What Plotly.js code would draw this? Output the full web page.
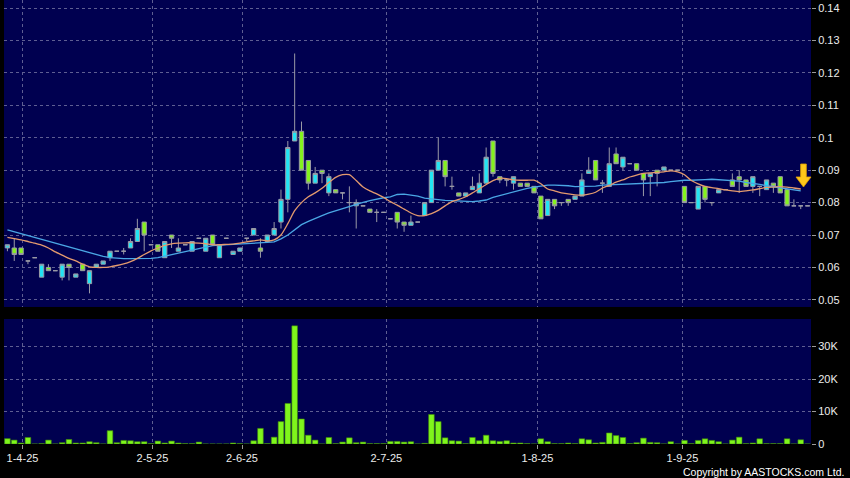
<!DOCTYPE html>
<html>
<head>
<meta charset="utf-8">
<script src="https://cdn.plot.ly/plotly-3.0.1.min.js"></script>
<style>
  html, body { margin: 0; padding: 0; background: #000; }
  #chart { width: 850px; height: 478px; }
</style>
</head>
<body>
<div id="chart"></div>
<script>
// ---- Data (one entry per trading session) ----
const openPx  = [0.066,0.066,0.066,0.062,0.063,0.057,0.060,0.059,0.057,0.061,
                 0.057,0.061,0.055,0.060,0.061,0.063,0.065,0.065,0.066,0.068,
                 0.074,0.067,0.067,0.063,0.070,0.065,0.067,0.065,0.069,0.065,
                 0.070,0.063,0.069,0.064,0.065,0.069,0.070,0.066,0.068,0.070,
                 0.074,0.081,0.099,0.102,0.093,0.086,0.090,0.083,0.084,0.083,
                 0.080,0.079,0.079,0.078,0.077,0.077,0.075,0.077,0.074,0.073,
                 0.074,0.076,0.080,0.090,0.093,0.085,0.083,0.082,0.084,0.083,
                 0.086,0.099,0.088,0.087,0.086,0.086,0.086,0.085,0.082,0.076,
                 0.081,0.080,0.081,0.081,0.082,0.089,0.093,0.086,0.085,0.095,
                 0.091,0.092,0.092,0.089,0.088,0.090,0.090,0.090,0.090,0.085,
                 0.080,0.078,0.085,0.080,0.083,0.084,0.087,0.088,0.087,0.085,
                 0.085,0.084,0.086,0.088,0.084,0.079,0.079,0.079];
const highPx  = [0.067,0.069,0.066,0.062,0.063,0.061,0.061,0.059,0.061,0.061,
                 0.058,0.061,0.059,0.061,0.062,0.065,0.065,0.066,0.069,0.075,
                 0.074,0.067,0.067,0.068,0.070,0.069,0.067,0.068,0.069,0.069,
                 0.070,0.067,0.069,0.065,0.066,0.069,0.072,0.069,0.070,0.074,
                 0.084,0.099,0.126,0.105,0.093,0.091,0.090,0.089,0.084,0.083,
                 0.085,0.081,0.079,0.078,0.078,0.077,0.075,0.077,0.074,0.076,
                 0.074,0.080,0.090,0.100,0.093,0.088,0.083,0.083,0.088,0.089,
                 0.097,0.099,0.088,0.087,0.088,0.086,0.086,0.085,0.082,0.081,
                 0.081,0.080,0.081,0.082,0.089,0.094,0.093,0.087,0.097,0.097,
                 0.094,0.092,0.092,0.089,0.089,0.090,0.091,0.090,0.090,0.085,
                 0.080,0.085,0.085,0.080,0.084,0.084,0.089,0.090,0.087,0.088,
                 0.085,0.087,0.086,0.088,0.084,0.081,0.079,0.079];
const lowPx   = [0.065,0.062,0.064,0.061,0.063,0.057,0.059,0.059,0.056,0.056,
                 0.057,0.059,0.052,0.060,0.061,0.062,0.065,0.064,0.066,0.068,
                 0.065,0.067,0.065,0.063,0.066,0.065,0.067,0.065,0.069,0.065,
                 0.067,0.063,0.069,0.064,0.065,0.068,0.070,0.063,0.068,0.070,
                 0.072,0.077,0.099,0.090,0.084,0.086,0.086,0.082,0.083,0.081,
                 0.077,0.072,0.079,0.077,0.074,0.077,0.075,0.072,0.071,0.073,
                 0.074,0.076,0.080,0.090,0.085,0.084,0.082,0.082,0.084,0.083,
                 0.086,0.088,0.086,0.085,0.084,0.085,0.085,0.083,0.075,0.076,
                 0.078,0.079,0.079,0.081,0.082,0.089,0.087,0.083,0.085,0.092,
                 0.090,0.092,0.090,0.082,0.082,0.085,0.090,0.090,0.090,0.080,
                 0.080,0.078,0.080,0.079,0.083,0.084,0.085,0.083,0.085,0.083,
                 0.082,0.084,0.083,0.083,0.079,0.079,0.078,0.079];
const closePx = [0.067,0.064,0.064,0.062,0.063,0.061,0.059,0.059,0.061,0.060,
                 0.058,0.059,0.059,0.061,0.062,0.065,0.065,0.065,0.068,0.072,
                 0.070,0.067,0.065,0.068,0.069,0.066,0.067,0.068,0.069,0.069,
                 0.067,0.067,0.069,0.065,0.066,0.069,0.072,0.065,0.070,0.072,
                 0.081,0.097,0.102,0.090,0.086,0.089,0.089,0.088,0.083,0.083,
                 0.080,0.080,0.079,0.077,0.077,0.077,0.075,0.074,0.073,0.074,
                 0.074,0.080,0.090,0.093,0.088,0.085,0.082,0.083,0.085,0.086,
                 0.094,0.089,0.087,0.087,0.088,0.085,0.085,0.083,0.075,0.081,
                 0.079,0.080,0.080,0.082,0.087,0.090,0.087,0.086,0.092,0.092,
                 0.094,0.092,0.090,0.087,0.089,0.089,0.091,0.090,0.090,0.080,
                 0.080,0.085,0.081,0.080,0.084,0.084,0.085,0.087,0.085,0.088,
                 0.085,0.087,0.085,0.083,0.079,0.079,0.079,0.079];
const volume  = [1650,1200,300,2000,0,100,1200,0,400,1400,
                 300,300,700,400,0,4100,400,1100,1000,700,
                 700,100,900,300,900,300,100,100,600,0,
                 0,0,0,300,100,0,1000,4800,100,2100,
                 6900,12500,36400,7700,2700,1200,0,2000,100,600,
                 1900,400,600,100,100,100,800,800,600,700,
                 0,200,9100,6900,1900,1000,900,100,2000,1000,
                 2700,1000,800,1000,300,300,100,0,1600,700,
                 100,100,300,100,1600,1300,300,500,3400,2600,
                 2000,100,400,1800,500,400,0,700,0,1100,
                 100,1100,1600,1100,700,0,1200,2100,100,300,
                 1600,100,100,100,1600,0,1300,0];
const maShort = [0.0693,0.0689,0.0685,0.0680,0.0675,0.0669,0.0660,0.0648,0.0638,0.0628,
                 0.0620,0.0610,0.0602,0.0600,0.0600,0.0602,0.0606,0.0611,0.0618,0.0628,
                 0.0640,0.0651,0.0660,0.0668,0.0673,0.0675,0.0676,0.0676,0.0675,0.0673,
                 0.0670,0.0670,0.0671,0.0672,0.0675,0.0679,0.0682,0.0685,0.0682,0.0685,
                 0.0700,0.0735,0.0775,0.0800,0.0818,0.0830,0.0844,0.0862,0.0878,0.0886,
                 0.0886,0.0868,0.0848,0.0836,0.0827,0.0816,0.0803,0.0792,0.0780,0.0768,
                 0.0760,0.0760,0.0766,0.0776,0.0790,0.0803,0.0810,0.0818,0.0830,0.0843,
                 0.0856,0.0868,0.0875,0.0874,0.0870,0.0869,0.0869,0.0869,0.0858,0.0842,
                 0.0836,0.0830,0.0827,0.0824,0.0823,0.0826,0.0832,0.0845,0.0853,0.0863,
                 0.0870,0.0879,0.0885,0.0890,0.0892,0.0893,0.0895,0.0898,0.0895,0.0886,
                 0.0868,0.0858,0.0850,0.0846,0.0843,0.0839,0.0836,0.0834,0.0836,0.0839,
                 0.0843,0.0847,0.0848,0.0849,0.0848,0.0845,0.0842];
const maLong  = [0.0716,0.0710,0.0704,0.0699,0.0693,0.0687,0.0681,0.0676,0.0670,0.0664,
                 0.0658,0.0652,0.0645,0.0638,0.0634,0.0630,0.0628,0.0627,0.0627,0.0627,
                 0.0627,0.0628,0.0630,0.0634,0.0639,0.0644,0.0649,0.0654,0.0659,0.0664,
                 0.0667,0.0669,0.0670,0.0671,0.0672,0.0672,0.0674,0.0675,0.0677,0.0679,
                 0.0688,0.0700,0.0716,0.0732,0.0742,0.0752,0.0760,0.0768,0.0775,0.0781,
                 0.0788,0.0795,0.0801,0.0806,0.0811,0.0815,0.0818,0.0825,0.0826,0.0824,
                 0.0820,0.0814,0.0811,0.0808,0.0807,0.0806,0.0805,0.0804,0.0803,0.0805,
                 0.0808,0.0816,0.0822,0.0828,0.0834,0.0839,0.0844,0.0848,0.0851,0.0854,
                 0.0854,0.0854,0.0852,0.0849,0.0849,0.0849,0.0851,0.0854,0.0855,0.0856,
                 0.0857,0.0857,0.0858,0.0858,0.0859,0.0860,0.0862,0.0865,0.0868,0.0869,
                 0.0869,0.0869,0.0871,0.0872,0.0871,0.0870,0.0868,0.0866,0.0862,0.0860,
                 0.0856,0.0852,0.0849,0.0846,0.0842,0.0839,0.0836];
const dateTickLabels = ['1-4-25','2-5-25','2-6-25','2-7-25','1-8-25','1-9-25'];
const dateTickPos    = [2.2, 21.2, 34.3, 55.4, 77.5, 98.7];
const priceTicks     = [0.05,0.06,0.07,0.08,0.09,0.10,0.11,0.12,0.13,0.14];
const priceTickText  = ['0.05','0.06','0.07','0.08','0.09','0.1','0.11','0.12','0.13','0.14'];
const volTicks       = [0,10000,20000,30000];
const volTickText    = ['0','10K','20K','30K'];

// ---- Build chart ----
const session = openPx.map((_, i) => i);
const maIdxS = maShort.map((_, i) => i);
const maIdxL = maLong.map((_, i) => i);

const UP = '#22E4F4', DOWN = '#84F21E', EDGE = '#9a9aa6';
const GRID = '#5e5e92';
const FONT = 'Liberation Sans, Arial, sans-serif';

const traces = [
  {
    type: 'candlestick', x: session, open: openPx, high: highPx, low: lowPx, close: closePx,
    xaxis: 'x', yaxis: 'y',
    increasing: { fillcolor: UP, line: { color: EDGE, width: 1 } },
    decreasing: { fillcolor: DOWN, line: { color: EDGE, width: 1 } },
    whiskerwidth: 0, hoverinfo: 'skip', showlegend: false
  },
  {
    type: 'scatter', mode: 'lines', x: maIdxL, y: maLong, xaxis: 'x', yaxis: 'y',
    line: { color: '#4AA6E4', width: 1.3 }, hoverinfo: 'skip', showlegend: false
  },
  {
    type: 'scatter', mode: 'lines', x: maIdxS, y: maShort, xaxis: 'x', yaxis: 'y',
    line: { color: '#E39A6E', width: 1.3, shape: 'spline', smoothing: 0.6 }, hoverinfo: 'skip', showlegend: false
  },
  {
    type: 'bar', x: session, y: volume, xaxis: 'x', yaxis: 'y2',
    width: 0.82,
    marker: { color: '#7FF51C', line: { color: '#3f8a08', width: 0.6 } },
    hoverinfo: 'skip', showlegend: false
  }
];

const layout = {
  width: 850, height: 478,
  paper_bgcolor: '#000000', plot_bgcolor: '#000050',
  margin: { l: 4, r: 39, t: 0, b: 34, pad: 0 },
  showlegend: false,
  boxgap: 0.1,
  font: { family: FONT, size: 11, color: '#e8e8e8' },
  xaxis: {
    anchor: 'y2', range: [-0.5, 117.5], fixedrange: true,
    rangeslider: { visible: false },
    tickvals: dateTickPos, ticktext: dateTickLabels,
    ticks: 'outside', ticklen: 4, tickcolor: '#9a9a9a', tickwidth: 1,
    showgrid: true, gridcolor: GRID, griddash: '3px,3px', gridwidth: 1,
    zeroline: false, showline: false,
    tickfont: { family: FONT, size: 11, color: '#ececec' }
  },
  yaxis: {
    domain: [0.3086, 1], anchor: 'x', side: 'right',
    range: [0.0478, 0.1425], fixedrange: true,
    tickvals: priceTicks, ticktext: priceTickText,
    ticks: 'outside', ticklen: 4, tickcolor: '#9a9a9a',
    showgrid: true, gridcolor: GRID, griddash: '3px,3px', gridwidth: 1,
    zeroline: false, showline: false,
    tickfont: { family: FONT, size: 11, color: '#ececec' }
  },
  yaxis2: {
    domain: [0, 0.2815], anchor: 'x', side: 'right',
    range: [0, 38500], fixedrange: true,
    tickvals: volTicks, ticktext: volTickText,
    ticks: 'outside', ticklen: 4, tickcolor: '#9a9a9a',
    showgrid: true, gridcolor: GRID, griddash: '3px,3px', gridwidth: 1,
    zeroline: false, showline: false,
    tickfont: { family: FONT, size: 11, color: '#ececec' }
  },
  shapes: [{
    type: 'path', xref: 'paper', yref: 'paper',
    path: 'M 0.9872 0.6306 L 0.9942 0.6306 L 0.9942 0.6014 L 1.0 0.6014 L 0.9907 0.5788 L 0.9814 0.6014 L 0.9872 0.6014 Z',
    fillcolor: '#FFC81A', line: { color: '#E0A000', width: 0.8 }
  }],
  annotations: [{
    xref: 'paper', yref: 'paper', x: 1.0434, y: -0.063, xanchor: 'right', yanchor: 'middle',
    text: 'Copyright by AASTOCKS.com Ltd.', showarrow: false,
    font: { family: FONT, size: 10.5, color: '#ffffff' }
  }]
};

Plotly.newPlot('chart', traces, layout, { staticPlot: true, displayModeBar: false });
</script>
</body>
</html>
